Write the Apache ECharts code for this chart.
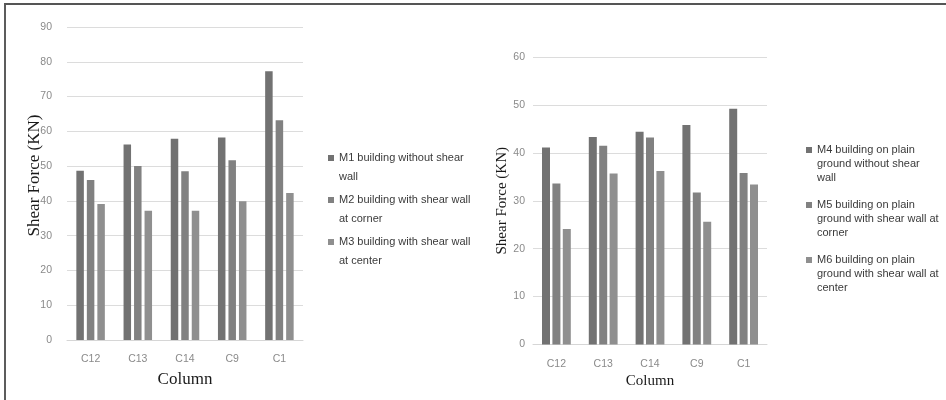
<!DOCTYPE html>
<html>
<head>
<meta charset="utf-8">
<script src="https://cdn.jsdelivr.net/npm/echarts@6/dist/echarts.min.js"></script>
<style>
  html, body { margin: 0; padding: 0; background: #fff; overflow: hidden; }
  #frame { position: absolute; left: 4px; top: 3px; width: 960px; height: 420px;
           border-top: 2px solid #555; border-left: 2px solid #5c5c5c; }
  #chart { position: absolute; left: 0; top: 0; width: 946px; height: 400px; }
</style>
</head>
<body>
<div id="frame"></div>
<div id="chart"></div>
<script>
// Column labels shared by both panels
const columns = ['C12', 'C13', 'C14', 'C9', 'C1'];

// Left panel: shear force (KN) per column
const leftNames = [
  'M1 building without shear wall',
  'M2 building with shear wall at corner',
  'M3 building with shear wall at center'
];
const leftWrapped = [
  'M1 building without shear\nwall',
  'M2 building with shear wall\nat corner',
  'M3 building with shear wall\nat center'
];
const m1 = [48.7, 56.2, 57.9, 58.2, 77.3];
const m2 = [46.0, 50.0, 48.5, 51.7, 63.2];
const m3 = [39.1, 37.2, 37.2, 39.9, 42.3];

// Right panel: buildings on plain ground
const rightNames = [
  'M4 building on plain ground without shear wall',
  'M5 building on plain ground with shear wall at corner',
  'M6 building on plain ground with shear wall at center'
];
const rightWrapped = [
  'M4 building on plain\nground without shear\nwall',
  'M5 building on plain\nground with shear wall at\ncorner',
  'M6 building on plain\nground with shear wall at\ncenter'
];
const m4 = [41.1, 43.3, 44.4, 45.8, 49.2];
const m5 = [33.6, 41.5, 43.2, 31.7, 35.8];
const m6 = [24.1, 35.7, 36.2, 25.6, 33.4];

// Value axis ranges
const leftAxis = { min: 0, max: 90, interval: 10 };
const rightAxis = { min: 0, max: 60, interval: 10 };

const barColors = ['#727272', '#818181', '#8f8f8f'];

const tickFont = { color: '#8a8a8a', fontSize: 10.5, fontFamily: 'Liberation Sans' };
const gridLine = { lineStyle: { color: '#dcdcdc', width: 1 } };

function catAxis(gridIndex, gap, size) {
  return {
    type: 'category', gridIndex, data: columns,
    axisLine: { lineStyle: { color: '#d6d6d6' } },
    axisTick: { show: false },
    axisLabel: Object.assign({ margin: 14 }, tickFont),
    name: 'Column', nameLocation: 'middle', nameGap: gap, nameMoveOverlap: false,
    nameTextStyle: { fontFamily: 'Liberation Serif', fontSize: size, color: '#1a1a1a' }
  };
}
function valAxis(gridIndex, range, gap, size, lift, labelMargin) {
  return {
    type: 'value', gridIndex, min: range.min, max: range.max, interval: range.interval,
    axisLine: { show: false }, axisTick: { show: false },
    axisLabel: Object.assign({ margin: labelMargin }, tickFont),
    splitLine: gridLine,
    name: 'Shear Force (KN)', nameLocation: 'middle', nameRotate: 90, nameGap: gap,
    nameMoveOverlap: false,
    nameTextStyle: {
      fontFamily: 'Liberation Serif', fontSize: size, color: '#1a1a1a',
      padding: [0, 0, 0, lift]
    }
  };
}
function bars(name, values, idx, axisIndex, width, gap) {
  return {
    type: 'bar', name, data: values,
    xAxisIndex: axisIndex, yAxisIndex: axisIndex,
    barWidth: width, barGap: gap,
    itemStyle: { color: barColors[idx] },
    emphasis: { disabled: true }
  };
}

// Legend squares sit beside the first text line of each wrapped entry
const leftIcon = 'path://M0,0h0.01v0.01h-0.01Z M0,6.5h6v6h-6Z M0,37.99h0.01v0.01h-0.01Z';
const rightIcon = 'path://M0,0h0.01v0.01h-0.01Z M0,4h6v6h-6Z M0,41.99h0.01v0.01h-0.01Z';

const chart = echarts.init(document.getElementById('chart'), null, { renderer: 'canvas' });
chart.setOption({
  animation: false,
  backgroundColor: 'transparent',
  grid: [
    { left: 67, top: 27, width: 236, height: 313 },
    { left: 533, top: 57, width: 234, height: 287.5 }
  ],
  xAxis: [catAxis(0, 31, 17), catAxis(1, 29, 15)],
  yAxis: [valAxis(0, leftAxis, 24, 17, 16, 15), valAxis(1, rightAxis, 23.5, 15, 0, 8)],
  legend: [
    {
      orient: 'vertical', left: 323, top: 143.5, selectedMode: false,
      data: leftNames, icon: leftIcon, itemWidth: 6, itemHeight: 38, itemGap: 4,
      formatter: n => leftWrapped[leftNames.indexOf(n)],
      textStyle: { fontSize: 11, lineHeight: 19, color: '#3a3a3a', fontFamily: 'Liberation Sans' }
    },
    {
      orient: 'vertical', left: 801, top: 138, selectedMode: false,
      data: rightNames, icon: rightIcon, itemWidth: 6, itemHeight: 42, itemGap: 13,
      formatter: n => rightWrapped[rightNames.indexOf(n)],
      textStyle: { fontSize: 11, lineHeight: 14, color: '#3a3a3a', fontFamily: 'Liberation Sans' }
    }
  ],
  series: [
    bars(leftNames[0], m1, 0, 0, 7.5, '40%'),
    bars(leftNames[1], m2, 1, 0, 7.5, '40%'),
    bars(leftNames[2], m3, 2, 0, 7.5, '40%'),
    bars(rightNames[0], m4, 0, 1, 8, '30%'),
    bars(rightNames[1], m5, 1, 1, 8, '30%'),
    bars(rightNames[2], m6, 2, 1, 8, '30%')
  ]
});
</script>
</body>
</html>
